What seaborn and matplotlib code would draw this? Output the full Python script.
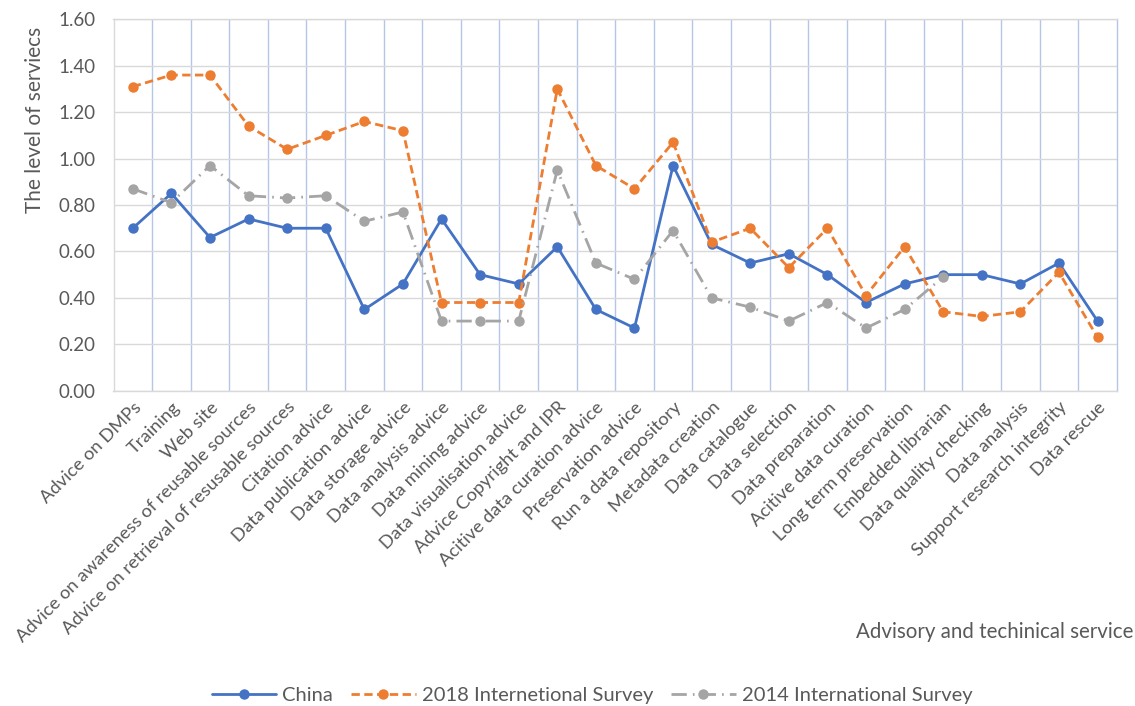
import numpy as np
import pandas as pd
import matplotlib
matplotlib.use("Agg")
import matplotlib.pyplot as plt
from matplotlib.ticker import FixedLocator, FormatStrFormatter
import seaborn as sns

services = [
    "Advice on DMPs", "Training", "Web site",
    "Advice on awareness of reusable sources",
    "Advice on retrieval of resusable sources",
    "Citation advice", "Data publication advice", "Data storage advice",
    "Data analysis advice", "Data mining advice", "Data visualisation advice",
    "Advice Copyright and IPR", "Acitive data curation advice",
    "Preservation advice", "Run a data repository", "Metadata creation",
    "Data catalogue", "Data selection", "Data preparation",
    "Acitive data curation", "Long term preservation", "Embedded librarian",
    "Data quality checking", "Data analysis", "Support research integrity",
    "Data rescue",
]

china = [0.70, 0.85, 0.66, 0.74, 0.70, 0.70, 0.35, 0.46, 0.74, 0.50, 0.46,
         0.62, 0.35, 0.27, 0.97, 0.63, 0.55, 0.59, 0.50, 0.38, 0.46, 0.50,
         0.50, 0.46, 0.55, 0.30]
survey_2018 = [1.31, 1.36, 1.36, 1.14, 1.04, 1.10, 1.16, 1.12, 0.38, 0.38,
               0.38, 1.30, 0.97, 0.87, 1.07, 0.64, 0.70, 0.53, 0.70, 0.41,
               0.62, 0.34, 0.32, 0.34, 0.51, 0.23]
survey_2014 = [0.87, 0.81, 0.97, 0.84, 0.83, 0.84, 0.73, 0.77, 0.30, 0.30,
               0.30, 0.95, 0.55, 0.48, 0.69, 0.40, 0.36, 0.30, 0.38, 0.27,
               0.35, 0.49, np.nan, np.nan, np.nan, np.nan]

series_names = ["China", "2018 Internetional Survey", "2014 International Survey"]
series_values = [china, survey_2018, survey_2014]
series_colors = ["#4472C4", "#ED7D31", "#A5A5A5"]
series_dashes = ["solid", (0, (3.0, 1.6)), (0, (5.5, 2.2, 0.6, 2.2))]

sns.set_theme(style="white")
plt.rcParams["font.family"] = ["Lato", "DejaVu Sans"]

text_color = "#595959"

fig = plt.figure(figsize=(11.35, 7.06), dpi=100)
ax = fig.add_axes([0.100, 0.4466, 0.884, 0.526])

x = np.arange(len(services))
for name, vals, col, ls in zip(series_names, series_values, series_colors, series_dashes):
    df = pd.DataFrame({"pos": x, "value": vals}).dropna()
    sns.lineplot(data=df, x="pos", y="value", ax=ax, color=col, linewidth=2.0,
                 marker="o", markersize=7.5, markeredgewidth=0, label=name)
    ax.lines[-1].set_linestyle(ls)

ax.set_xlim(-0.5, len(services) - 0.5)
ax.set_ylim(0, 1.6)
ax.yaxis.set_major_locator(FixedLocator(np.arange(0, 1.61, 0.2)))
ax.yaxis.set_major_formatter(FormatStrFormatter("%.2f"))
ax.set_xticks(x)
ax.set_xticklabels(services, rotation=45, ha="right", va="top",
                   rotation_mode="anchor", fontsize=13.2, color=text_color)
ax.xaxis.set_minor_locator(FixedLocator(np.arange(0.5, len(services) - 0.5, 1.0)))
ax.tick_params(axis="x", which="both", length=0, pad=6)
ax.tick_params(axis="y", length=0, labelsize=13.5, labelcolor=text_color, pad=13)

ax.grid(axis="y", which="major", color="#D9D9D9", linewidth=1.0)
ax.grid(axis="x", which="minor", color="#B4C7E7", linewidth=1.0)
ax.grid(axis="x", which="major", visible=False)
ax.set_axisbelow(True)
for side in ["left", "right", "top", "bottom"]:
    ax.spines[side].set_color("#D9D9D9")
    ax.spines[side].set_linewidth(1.0)
ax.spines["right"].set_color("#B4C7E7")

ax.set_xlabel("")
ax.set_ylabel("The level of serviecs", fontsize=15, color=text_color)
ax.yaxis.set_label_coords(-0.068, 0.73)
fig.text(0.999, 0.105, "Advisory and techinical service", ha="right", va="center",
         fontsize=14.8, color=text_color)

leg = ax.legend(loc="center", bbox_to_anchor=(0.5216, 0.0155),
                bbox_transform=fig.transFigure, ncol=3, frameon=False,
                fontsize=14.5, handlelength=3.2, columnspacing=0.9,
                handletextpad=0.3)
for t in leg.get_texts():
    t.set_color(text_color)

fig.savefig("out.png", dpi=100)
